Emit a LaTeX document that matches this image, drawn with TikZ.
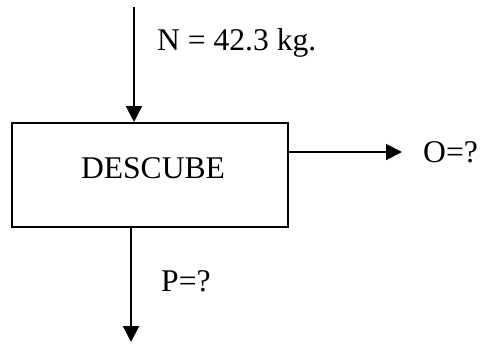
\documentclass[tikz,border=0pt]{standalone}
\usepackage{fontspec}
\setmainfont{Liberation Serif}
\usetikzlibrary{arrows.meta}
\begin{document}
\begin{tikzpicture}[x=1pt,y=-1pt,
  flow/.style={line width=2pt,-{Triangle[length=16pt,width=16pt]}},
  lbl/.style={inner sep=0pt,anchor=base west,font=\fontsize{31.6}{38}\selectfont}]
\useasboundingbox (0,0) rectangle (482,343);
\node[draw,line width=2pt,minimum width=276pt,minimum height=104pt,inner sep=0pt] (box) at (150,175) {};
\node[inner sep=0pt,anchor=base,font=\fontsize{31.6}{38}\selectfont] (t) at (153,178) {DESCUBE};
\coordinate (nin) at (134,7);
\coordinate (pout) at (131,342);
\coordinate (oout) at (402,152);
\draw[flow] (nin) -- (nin |- box.north);
\draw[flow] (pout |- box.south) -- (pout);
\draw[flow] (box.east |- oout) -- (oout);
\node[lbl] (n) at (157,50) {N = 42.3 kg.};
\node[lbl] (o) at (423,162) {O=?};
\node[lbl] (p) at (161,291) {P=?};
\end{tikzpicture}
\end{document}
